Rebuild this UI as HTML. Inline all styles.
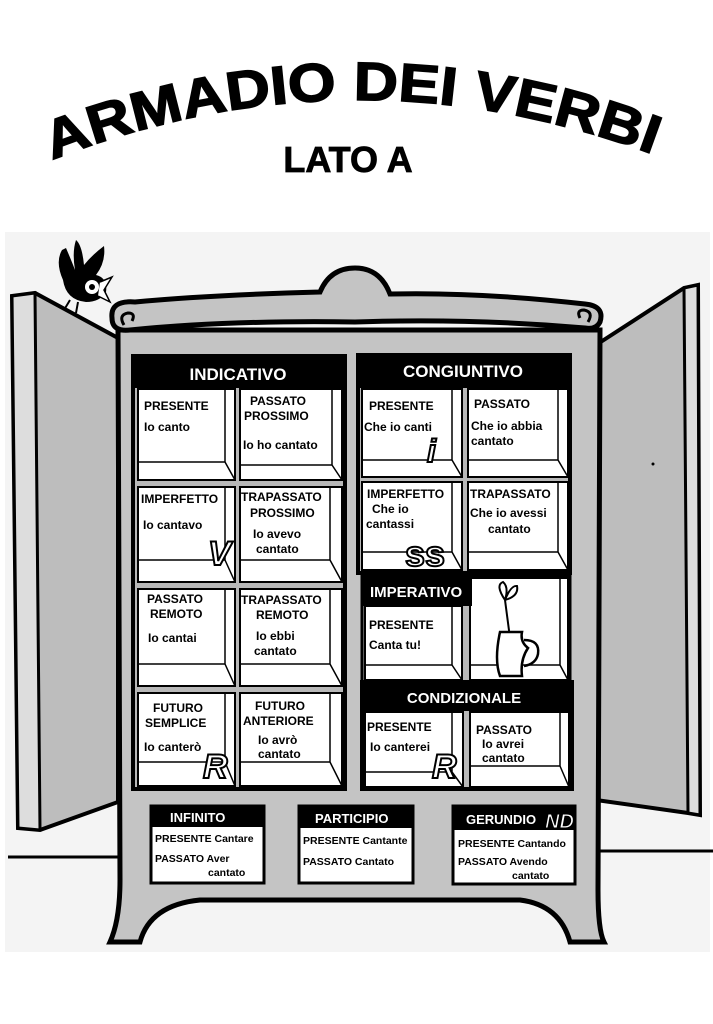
<!DOCTYPE html>
<html><head><meta charset="utf-8"><style>
html,body{margin:0;padding:0;background:#fff}
svg{display:block}
text{font-family:"Liberation Sans",Arial,sans-serif;font-weight:bold}
.c{font-size:12px;fill:#000}
.h{font-size:17px;fill:#fff}
.s{font-size:10.5px;fill:#000}
.cell rect{fill:#fff;stroke:#000;stroke-width:2}
.cell path{fill:none;stroke:#000;stroke-width:1.5}
</style></head><body>
<svg width="713" height="1024" viewBox="0 0 713 1024" xmlns="http://www.w3.org/2000/svg">
<rect width="713" height="1024" fill="#fff"/>
<rect x="5" y="232" width="705" height="720" fill="#f4f4f4"/>
<defs><path id="arc" d="M52,160 Q358,40 668,160"/></defs>
<text font-size="54" fill="#000" stroke="#000" stroke-width="1.5" style="font-weight:bold"><textPath href="#arc" textLength="615" lengthAdjust="spacingAndGlyphs">ARMADIO DEI VERBI</textPath></text>
<text x="348" y="172" font-size="36" text-anchor="middle" fill="#000" stroke="#000" stroke-width="0.8">LATO A</text>

<!-- floor -->
<path d="M8,857 H118 M596,851 H713" stroke="#000" stroke-width="3"/>
<!-- doors -->
<path d="M12,296 L35,293 L118,338 L118,802 L40,830 L18,828 Z" fill="#bdbdbd" stroke="#000" stroke-width="4"/>
<path d="M12,296 L35,293 L40,830 L18,828 Z" fill="#ddd" stroke="#000" stroke-width="3"/>
<path d="M596,345 L684,288 L698,285 L700,815 L688,813 L596,800 Z" fill="#bdbdbd" stroke="#000" stroke-width="4"/>
<path d="M684,288 L698,285 L700,815 L688,813 Z" fill="#ddd" stroke="#000" stroke-width="3"/>
<circle cx="653" cy="464" r="1.5" fill="#000"/>
<!-- body -->
<path d="M118,330 L600,330 L598,890 Q598,930 604,942 L570,942 Q560,905 520,900 L200,900 Q150,905 140,942 L110,942 Q120,920 120,880 Z" fill="#c4c4c4" stroke="#000" stroke-width="5"/>
<!-- crown -->
<path d="M112,318 Q110,300 135,302 Q210,295 320,292 Q330,268 355,268 Q380,268 390,294 Q480,292 585,304 Q605,306 600,322 Q596,330 585,328 Q470,318 355,322 Q230,320 130,330 Q112,332 112,318 Z" fill="#c4c4c4" stroke="#000" stroke-width="5"/>
<path d="M124,325 q-6,-10 4,-12 q8,0 4,8" fill="none" stroke="#000" stroke-width="3"/>
<path d="M588,322 q6,-10 -4,-12 q-8,0 -4,8" fill="none" stroke="#000" stroke-width="3"/>
<!-- bird -->
<path d="M63,280 Q55,262 62,250 L66,248 Q72,262 75,270 Q72,252 76,240 Q82,245 84,265 Q92,255 104,246 Q106,262 96,275 Q108,278 106,292 Q100,302 86,302 Q66,300 63,280 Z" fill="#000"/>
<circle cx="92" cy="287" r="7" fill="#fff"/><circle cx="92" cy="287" r="3" fill="#000"/>
<path d="M100,282 L112,277 L104,290 L110,302 L98,296" fill="#fff" stroke="#000" stroke-width="1.5"/>
<path d="M70,300 L64,310 M78,302 L76,313" stroke="#000" stroke-width="2"/>

<!-- INDICATIVO panel -->
<rect x="133" y="356" width="212" height="433" fill="#b8b8b8" stroke="#000" stroke-width="4"/>
<rect x="133" y="356" width="212" height="32" fill="#000"/>
<text x="238" y="380" class="h" text-anchor="middle">INDICATIVO</text>
<g class="cell">
<rect x="138" y="389" width="97" height="91"/><path d="M138,462 H225 V389 M225,462 L235,480 M138,462 L138,480"/>
<rect x="240" y="389" width="102" height="91"/><path d="M240,465 H332 V389 M332,465 L342,480"/>
<rect x="138" y="487" width="97" height="95"/><path d="M138,560 H225 V487 M225,560 L235,582"/>
<rect x="240" y="487" width="102" height="95"/><path d="M240,560 H330 V487 M330,560 L342,582"/>
<rect x="138" y="589" width="97" height="97"/><path d="M138,664 H225 V589 M225,664 L235,686"/>
<rect x="240" y="589" width="102" height="97"/><path d="M240,664 H330 V589 M330,664 L342,686"/>
<rect x="138" y="693" width="97" height="93"/><path d="M138,762 H225 V693 M225,762 L235,786"/>
<rect x="240" y="693" width="102" height="93"/><path d="M240,762 H330 V693 M330,762 L342,786"/>
</g>
<text class="c" x="144" y="410">PRESENTE</text><text class="c" x="144" y="431">Io canto</text>
<text class="c" x="250" y="405">PASSATO</text><text class="c" x="244" y="420">PROSSIMO</text><text class="c" x="243" y="449">Io ho cantato</text>
<text class="c" x="141" y="503">IMPERFETTO</text><text class="c" x="143" y="529">Io cantavo</text>
<text class="c" x="241" y="501">TRAPASSATO</text><text class="c" x="250" y="517">PROSSIMO</text><text class="c" x="253" y="538">Io avevo</text><text class="c" x="256" y="553">cantato</text>
<text class="c" x="147" y="603">PASSATO</text><text class="c" x="150" y="618">REMOTO</text><text class="c" x="148" y="642">Io cantai</text>
<text class="c" x="241" y="604">TRAPASSATO</text><text class="c" x="256" y="619">REMOTO</text><text class="c" x="256" y="640">Io ebbi</text><text class="c" x="254" y="655">cantato</text>
<text class="c" x="153" y="712">FUTURO</text><text class="c" x="145" y="727">SEMPLICE</text><text class="c" x="144" y="751">Io canterò</text>
<text class="c" x="255" y="710">FUTURO</text><text class="c" x="243" y="725">ANTERIORE</text><text class="c" x="258" y="744">Io avrò</text><text class="c" x="258" y="758">cantato</text>
<text x="208" y="565" font-size="34" font-style="italic" fill="#fff" stroke="#000" stroke-width="2">V</text>
<text x="203" y="778" font-size="34" font-style="italic" fill="#fff" stroke="#000" stroke-width="2">R</text>

<!-- CONGIUNTIVO -->
<rect x="358" y="355" width="212" height="218" fill="#b8b8b8" stroke="#000" stroke-width="4"/>
<rect x="358" y="355" width="212" height="33" fill="#000"/>
<text x="463" y="377" class="h" text-anchor="middle">CONGIUNTIVO</text>
<g class="cell">
<rect x="362" y="389" width="100" height="88"/><path d="M362,460 H452 V389 M452,460 L462,477"/>
<rect x="468" y="389" width="100" height="88"/><path d="M468,460 H558 V389 M558,460 L568,477"/>
<rect x="362" y="482" width="100" height="88"/><path d="M362,552 H452 V482 M452,552 L462,570"/>
<rect x="468" y="482" width="100" height="88"/><path d="M468,552 H558 V482 M558,552 L568,570"/>
</g>
<text class="c" x="369" y="410">PRESENTE</text><text class="c" x="364" y="431">Che io canti</text>
<text class="c" x="474" y="408">PASSATO</text><text class="c" x="471" y="430">Che io abbia</text><text class="c" x="471" y="445">cantato</text>
<text class="c" x="367" y="498">IMPERFETTO</text><text class="c" x="372" y="513">Che io</text><text class="c" x="366" y="528">cantassi</text>
<text class="c" x="470" y="498">TRAPASSATO</text><text class="c" x="470" y="517">Che io avessi</text><text class="c" x="488" y="533">cantato</text>
<text x="427" y="462" font-size="32" font-style="italic" fill="#fff" stroke="#000" stroke-width="2" font-family="Liberation Serif">i</text>
<text x="405" y="566" font-size="36" fill="#fff" stroke="#000" stroke-width="2">ss</text>

<!-- IMPERATIVO -->
<rect x="362" y="576" width="208" height="106" fill="#b8b8b8" stroke="#000" stroke-width="3"/>
<g class="cell">
<rect x="365" y="606" width="97" height="74"/><path d="M365,665 H452 V606 M452,665 L462,680"/>
<rect x="470" y="578" width="98" height="102"/><path d="M470,665 H560 V578 M560,665 L568,680"/>
</g>
<rect x="362" y="576" width="110" height="30" fill="#000"/>
<text x="370" y="597" class="h" style="font-size:15px">IMPERATIVO</text>
<text class="c" x="369" y="629">PRESENTE</text><text class="c" x="369" y="649">Canta tu!</text>
<path d="M510,638 L505,600 M505,600 q-10,-15 -2,-18 q6,5 2,18 q6,-15 12,-14 q2,10 -12,14" fill="none" stroke="#000" stroke-width="2"/>
<path d="M500,632 L522,632 Q520,642 528,648 Q520,660 522,676 L500,676 Q494,660 500,632 Z" fill="#fff" stroke="#000" stroke-width="2.5"/>
<path d="M524,640 q16,0 14,14 q-2,10 -14,12" fill="none" stroke="#000" stroke-width="2.5"/>

<!-- CONDIZIONALE -->
<rect x="362" y="682" width="210" height="107" fill="#b8b8b8" stroke="#000" stroke-width="4"/>
<rect x="362" y="682" width="210" height="29" fill="#000"/>
<text x="464" y="703" class="h" text-anchor="middle" style="font-size:15px">CONDIZIONALE</text>
<g class="cell">
<rect x="365" y="712" width="98" height="75"/><path d="M365,772 H452 V712 M452,772 L463,787"/>
<rect x="470" y="712" width="99" height="75"/><path d="M470,766 H560 V712 M560,766 L569,787"/>
</g>
<text class="c" x="367" y="731">PRESENTE</text><text class="c" x="370" y="751">Io canterei</text>
<text class="c" x="476" y="734">PASSATO</text><text class="c" x="482" y="748">Io avrei</text><text class="c" x="482" y="762">cantato</text>
<text x="432" y="778" font-size="34" font-style="italic" fill="#fff" stroke="#000" stroke-width="2">R</text>

<!-- bottom boxes -->
<rect x="151" y="806" width="113" height="77" fill="#fff" stroke="#000" stroke-width="3"/>
<rect x="151" y="806" width="113" height="21" fill="#000"/>
<text x="170" y="822" class="h" style="font-size:13px">INFINITO</text>
<text class="s" x="155" y="842">PRESENTE Cantare</text><text class="s" x="155" y="862">PASSATO Aver</text><text class="s" x="208" y="876">cantato</text>

<rect x="299" y="806" width="114" height="77" fill="#fff" stroke="#000" stroke-width="3"/>
<rect x="299" y="806" width="114" height="22" fill="#000"/>
<text x="315" y="823" class="h" style="font-size:13px">PARTICIPIO</text>
<text class="s" x="303" y="844">PRESENTE Cantante</text><text class="s" x="303" y="865">PASSATO Cantato</text>

<rect x="453" y="806" width="122" height="78" fill="#fff" stroke="#000" stroke-width="3"/>
<rect x="453" y="806" width="122" height="24" fill="#000"/>
<text x="466" y="824" class="h" style="font-size:13px">GERUNDIO</text>
<text x="545" y="828" font-size="20" font-style="italic" fill="#fff" stroke="#000" stroke-width="1">ND</text>
<text class="s" x="458" y="847">PRESENTE Cantando</text><text class="s" x="458" y="865">PASSATO Avendo</text><text class="s" x="512" y="879">cantato</text>
</svg>
</body></html>
